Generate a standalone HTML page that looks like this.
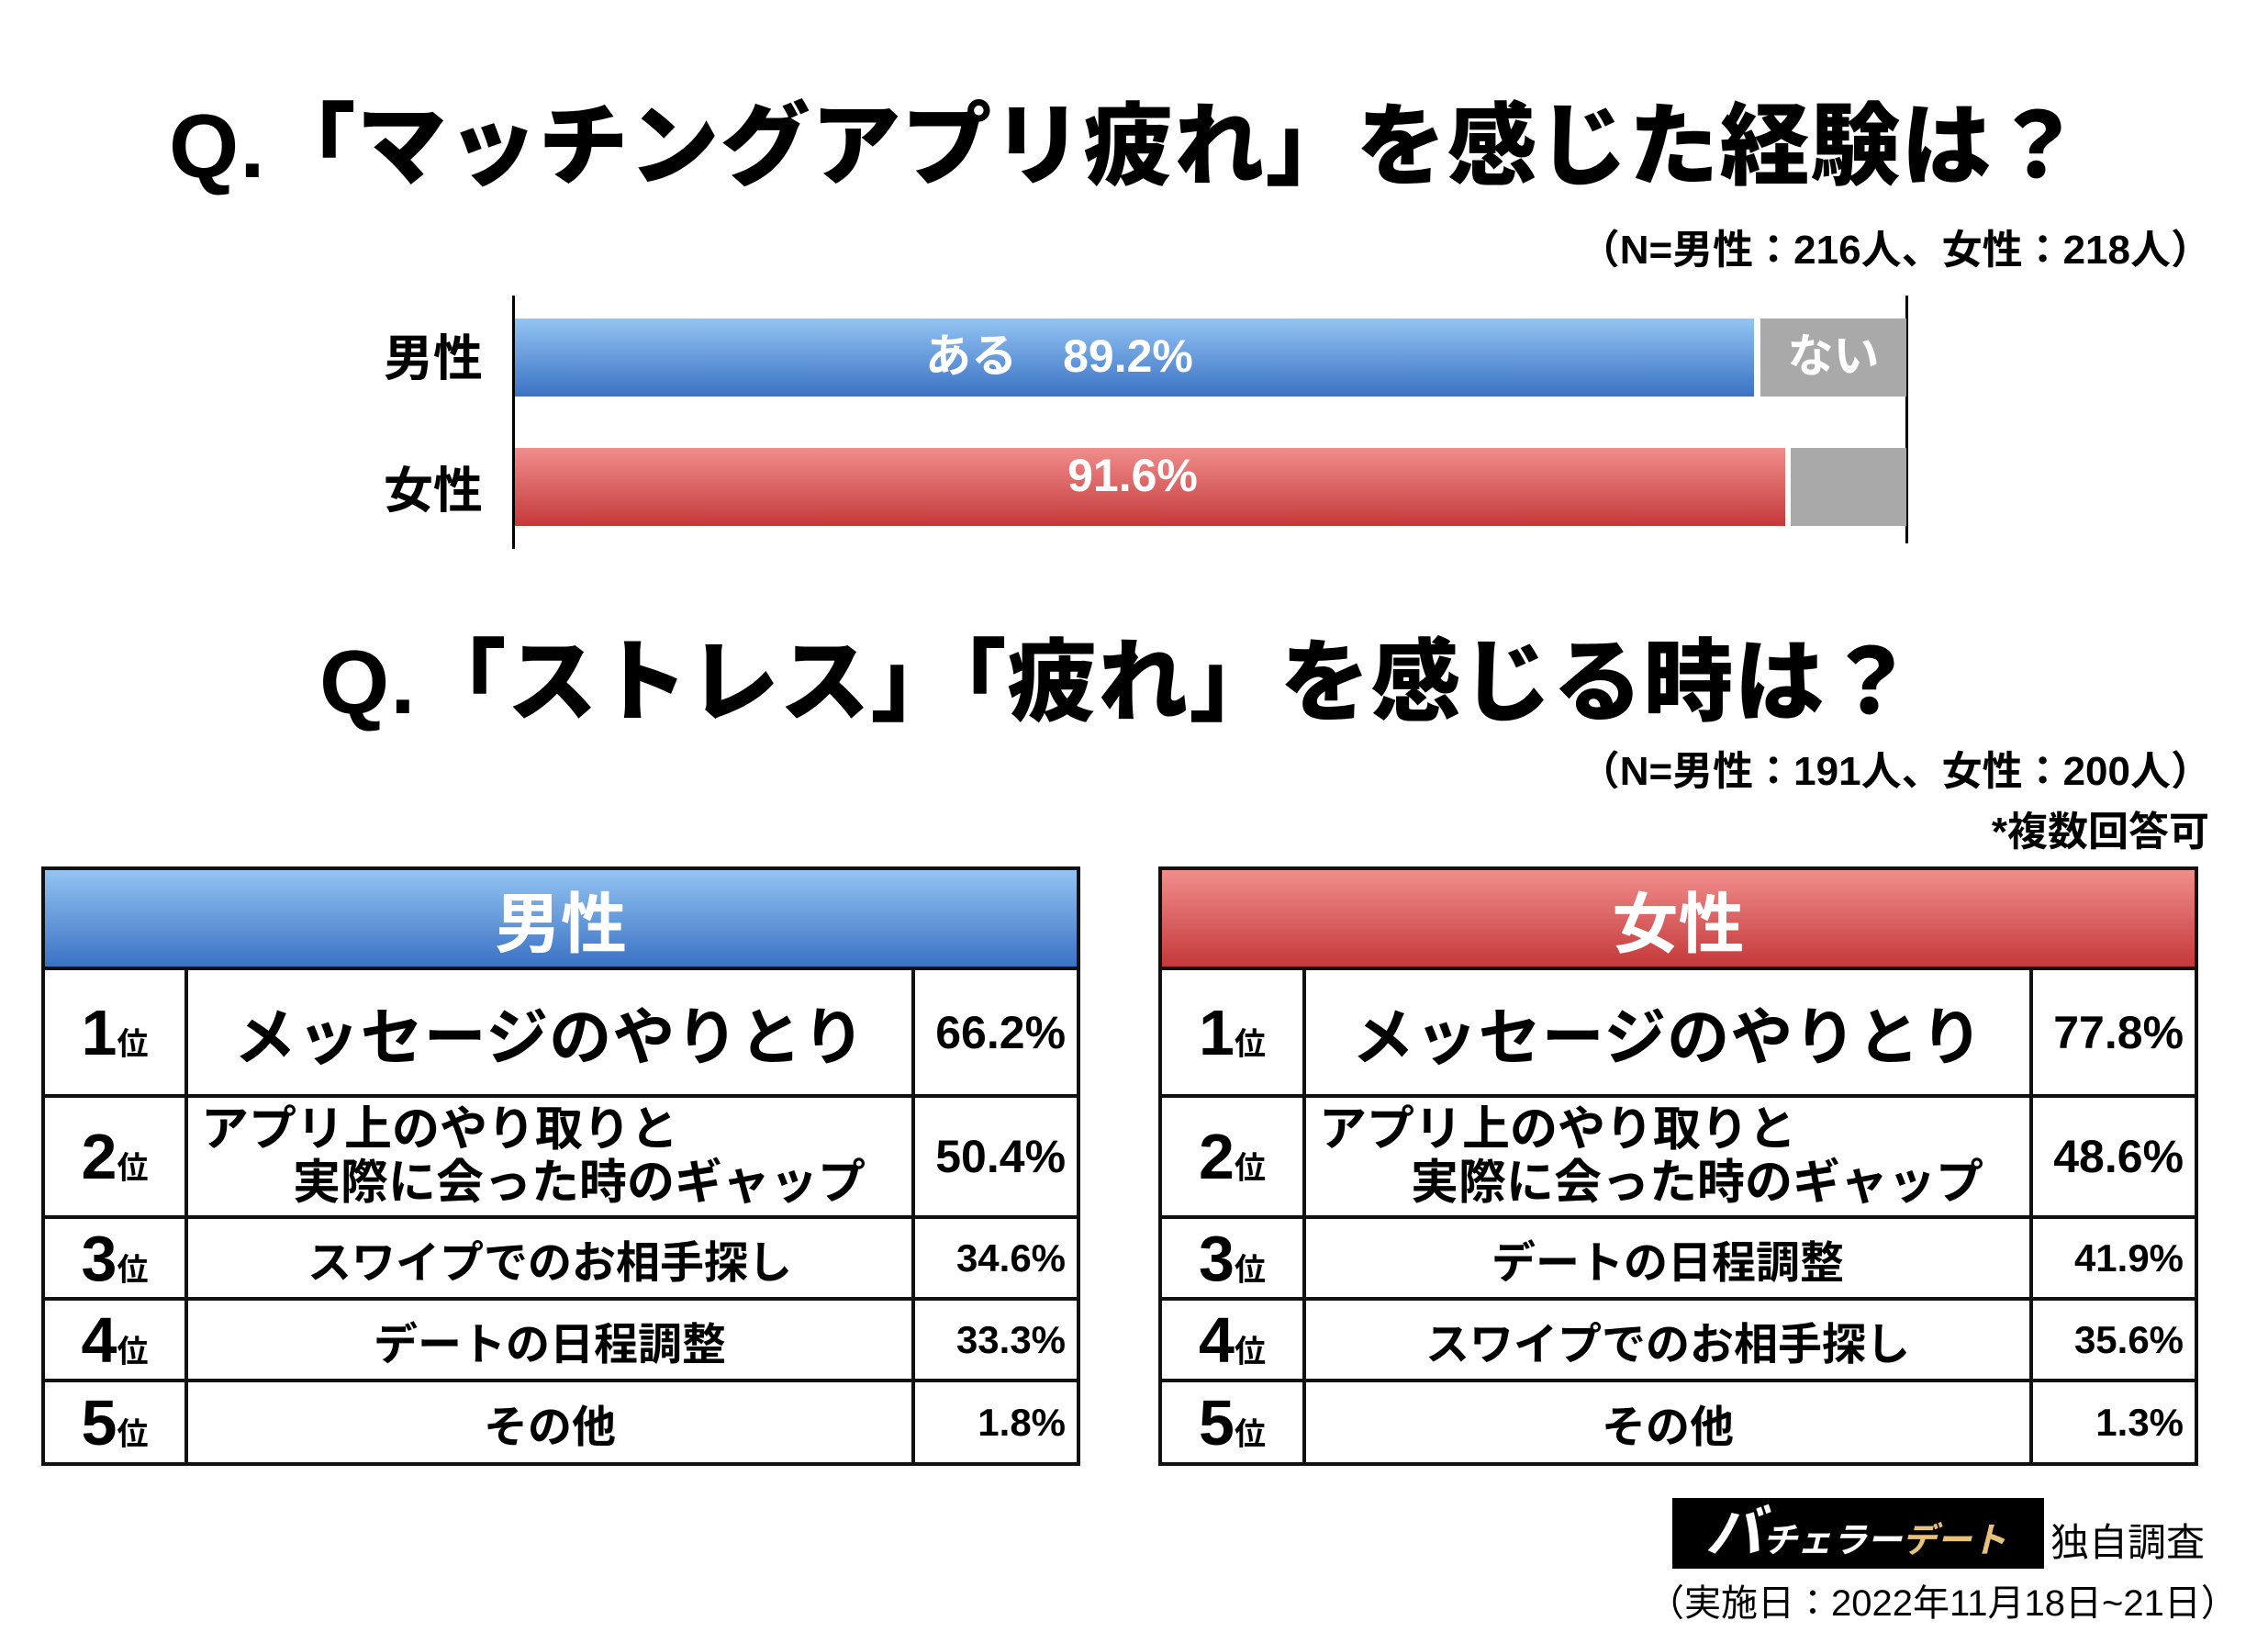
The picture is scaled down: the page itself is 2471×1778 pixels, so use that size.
<!DOCTYPE html>
<html><head><meta charset="utf-8">
<style>
*{margin:0;padding:0;box-sizing:border-box}
body{width:2471px;height:1778px;background:#fff;position:relative;overflow:hidden;font-family:"Liberation Sans","Noto Sans CJK JP",sans-serif;font-weight:700;color:#000}
.a{position:absolute;white-space:nowrap}
.t1{font-size:98px;font-weight:900;left:184px;top:80px;letter-spacing:1px}
.t2{font-size:98px;font-weight:900;left:348px;top:664px;letter-spacing:1px}
.n{font-size:44px;right:62px}
.blue{background:linear-gradient(#93c4f3,#3a72c4)}
.red{background:linear-gradient(#f08e8c,#c5383a)}
.gray{background:#a9a9a9}
.bl{color:#fff;font-size:50px;text-align:center}
table{position:absolute;border-collapse:collapse;table-layout:fixed}
td{border:4px solid #111;text-align:center;vertical-align:middle;white-space:nowrap;font-weight:700}
td.h{color:#fff;font-size:72px;height:100px}
.r{font-size:70px;text-align:center}
.r span{font-size:34px}
.p{font-size:50px;text-align:right;padding-right:12px}
.ps{font-size:42px;text-align:right;padding-right:12px}
</style></head><body>
<div class="a t1">Q.「マッチングアプリ疲れ」を感じた経験は？</div>
<div class="a n" style="top:236px">（N=男性：216人、女性：218人）</div>

<div class="a" style="left:558px;top:322px;width:3px;height:276px;background:#000"></div>
<div class="a" style="left:2076px;top:322px;width:3px;height:270px;background:#000"></div>
<div class="a" style="left:418px;top:346px;font-size:54px">男性</div>
<div class="a" style="left:418px;top:490px;font-size:54px">女性</div>
<div class="a blue" style="left:561px;top:347px;width:1350px;height:85px"></div>
<div class="a gray" style="left:1918px;top:347px;width:159px;height:85px"></div>
<div class="a red" style="left:561px;top:488px;width:1384px;height:85px"></div>
<div class="a gray" style="left:1951px;top:488px;width:126px;height:85px"></div>
<div class="a bl" style="left:984px;top:348px;width:340px">ある　89.2%</div>
<div class="a bl" style="left:1918px;top:348px;width:159px">ない</div>
<div class="a bl" style="left:1064px;top:489px;width:340px">91.6%</div>

<div class="a t2">Q.「ストレス」「疲れ」を感じる時は？</div>
<div class="a n" style="top:804px">（N=男性：191人、女性：200人）</div>
<div class="a n" style="top:870px;right:64px">*複数回答可</div>

<table style="left:45px;top:944px;width:1128px">
<colgroup><col style="width:156px"><col style="width:792px"><col style="width:180px"></colgroup>
<tr><td class="h blue" colspan="3">男性</td></tr>
<tr style="height:139px"><td class="r">1<span>位</span></td><td style="font-size:68px;letter-spacing:1px">メッセージのやりとり</td><td class="p">66.2%</td></tr>
<tr style="height:132px"><td class="r">2<span>位</span></td><td style="font-size:52px;text-align:left;line-height:58px;padding-left:14px">アプリ上のやり取りと<br><span style="padding-left:100px">実際に会った時のギャップ</span></td><td class="p">50.4%</td></tr>
<tr style="height:89px"><td class="r">3<span>位</span></td><td style="font-size:48px">スワイプでのお相手探し</td><td class="ps">34.6%</td></tr>
<tr style="height:89px"><td class="r">4<span>位</span></td><td style="font-size:48px">デートの日程調整</td><td class="ps">33.3%</td></tr>
<tr style="height:91px"><td class="r">5<span>位</span></td><td style="font-size:48px">その他</td><td class="ps">1.8%</td></tr>
</table>

<table style="left:1262px;top:944px;width:1129px">
<colgroup><col style="width:157px"><col style="width:792px"><col style="width:180px"></colgroup>
<tr><td class="h red" colspan="3">女性</td></tr>
<tr style="height:139px"><td class="r">1<span>位</span></td><td style="font-size:68px;letter-spacing:1px">メッセージのやりとり</td><td class="p">77.8%</td></tr>
<tr style="height:132px"><td class="r">2<span>位</span></td><td style="font-size:52px;text-align:left;line-height:58px;padding-left:14px">アプリ上のやり取りと<br><span style="padding-left:100px">実際に会った時のギャップ</span></td><td class="p">48.6%</td></tr>
<tr style="height:89px"><td class="r">3<span>位</span></td><td style="font-size:48px">デートの日程調整</td><td class="ps">41.9%</td></tr>
<tr style="height:89px"><td class="r">4<span>位</span></td><td style="font-size:48px">スワイプでのお相手探し</td><td class="ps">35.6%</td></tr>
<tr style="height:91px"><td class="r">5<span>位</span></td><td style="font-size:48px">その他</td><td class="ps">1.3%</td></tr>
</table>

<div class="a" style="left:1822px;top:1632px;width:405px;height:77px;background:#000;color:#fff;font-size:38px;line-height:77px;padding-left:36px;font-style:italic;overflow:hidden"><span style="font-size:62px">バ</span>チェラー<span style="color:#e8c27a">デート</span></div>
<div class="a" style="left:2234px;top:1647px;font-size:42px;font-weight:400">独自調査</div>
<div class="a" style="left:1795px;top:1714px;font-size:40px;font-weight:400">（実施日：2022年11月18日~21日）</div>
</body></html>
